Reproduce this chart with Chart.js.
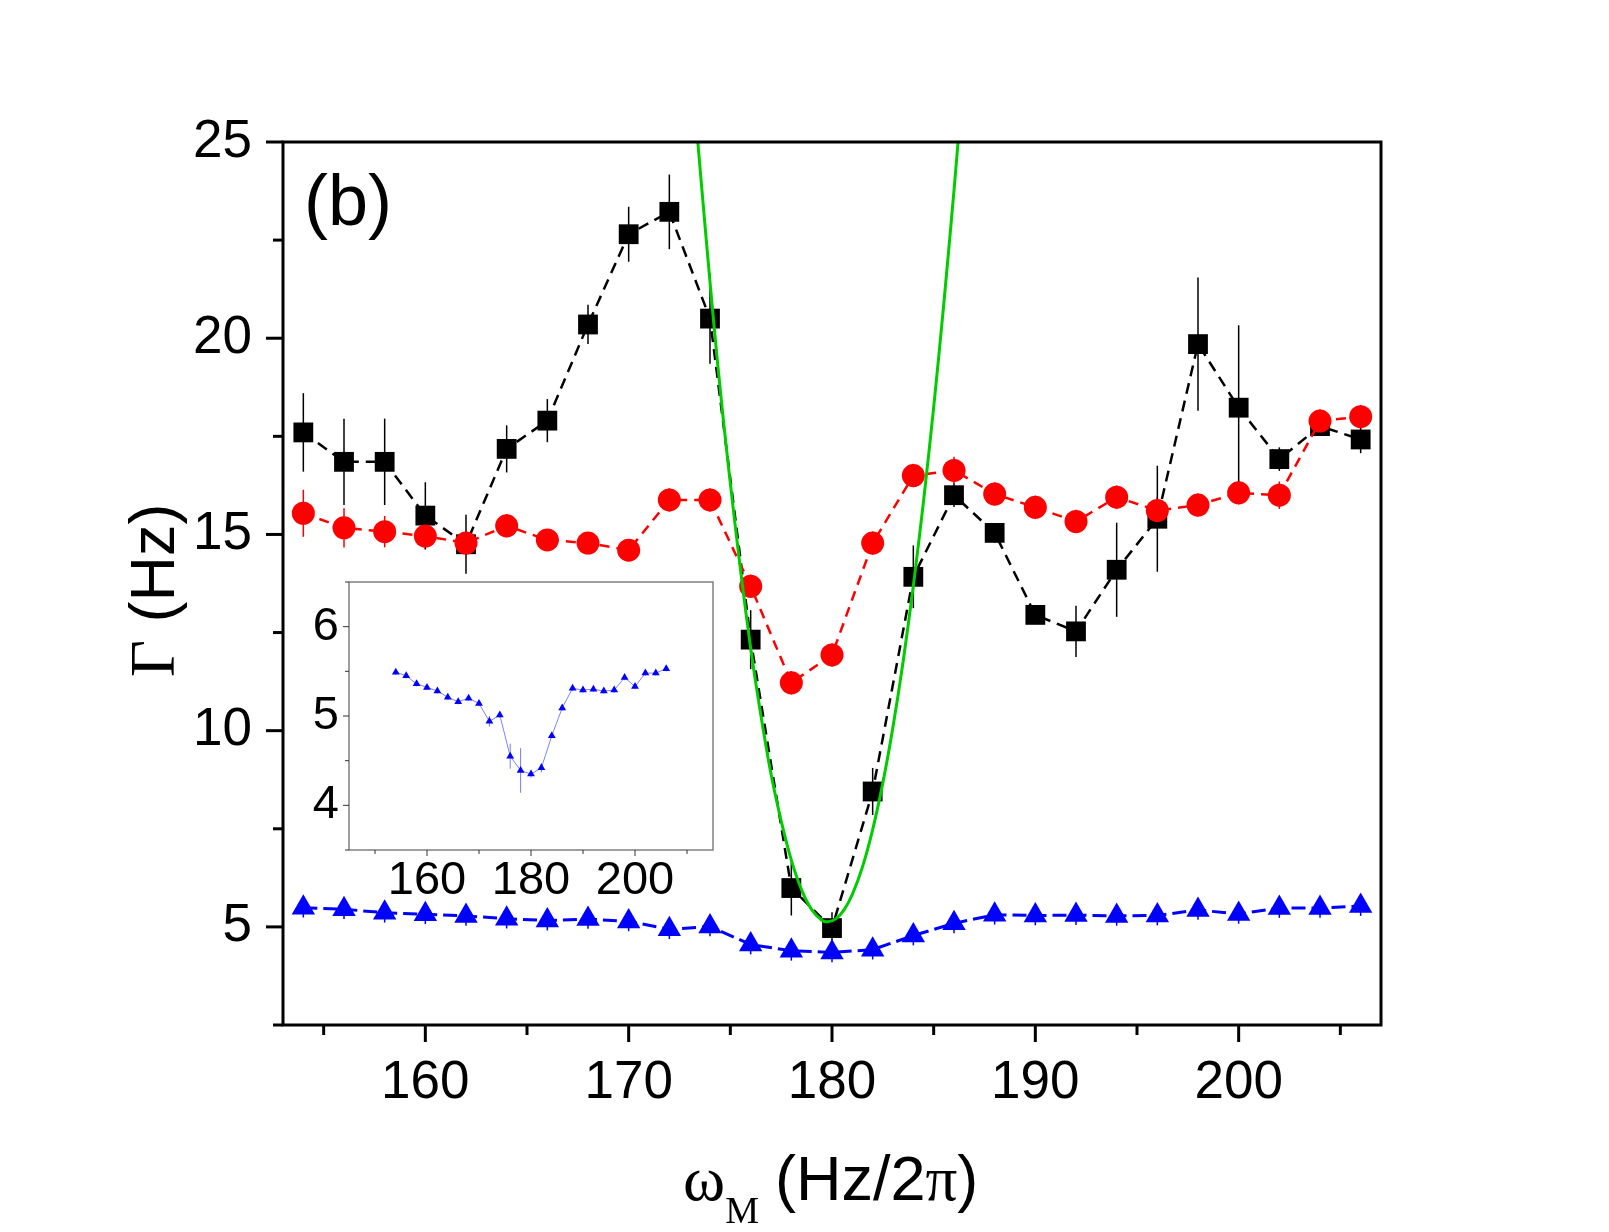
<!DOCTYPE html>
<html>
<head>
<meta charset="utf-8">
<script src="https://cdn.jsdelivr.net/npm/chart.js@4.4.1/dist/chart.umd.min.js"></script>
<style>
  html, body { margin: 0; padding: 0; background: #fff; overflow: hidden; }
  #wrap { position: relative; width: 1609px; height: 1232px; }
  #main { position: absolute; left: 0; top: 0; }
  #inset { position: absolute; left: 269px; top: 540px; }
</style>
</head>
<body>
<div id="wrap">
  <canvas id="main" width="1609" height="1232"></canvas>
  <canvas id="inset" width="480" height="380"></canvas>
</div>
<script>
const SANS = '"Liberation Sans", Arial, Helvetica, sans-serif';
const SERIF = '"Liberation Serif", "Times New Roman", "DejaVu Serif", serif';
Chart.defaults.font.family = SANS;
Chart.defaults.color = "#000";

// modulation frequency (Hz/2pi)
const freq = [154, 156, 158, 160, 162, 164, 166, 168, 170, 172, 174, 176, 178, 180,
              182, 184, 186, 188, 190, 192, 194, 196, 198, 200, 202, 204, 206];

// black squares
const gammaBlack = [17.6, 16.85, 16.85, 15.48, 14.75, 17.18, 17.9, 20.35, 22.65, 23.22, 20.5, 12.32, 5.99, 4.97,
                    8.45, 13.92, 16.0, 15.04, 12.95, 12.53, 14.1, 15.4, 19.85, 18.23, 16.92, 17.76, 17.42];
const errBlack = [1.0, 1.1, 1.1, 0.85, 0.75, 0.6, 0.55, 0.5, 0.7, 0.95, 1.15, 0.75, 0.7, 0.4,
                  0.6, 0.8, 0.3, 0.25, 0.2, 0.65, 1.2, 1.35, 1.7, 2.1, 0.3, 0.15, 0.35];

// red circles
const gammaRed = [15.54, 15.17, 15.07, 14.96, 14.78, 15.22, 14.86, 14.78, 14.6, 15.88, 15.88, 13.68, 11.22, 11.93,
                  14.78, 16.5, 16.63, 16.03, 15.69, 15.33, 15.95, 15.61, 15.75, 16.06, 16.0, 17.89, 18.0];
const errRed = [0.6, 0.5, 0.4, 0.35, 0.3, 0.3, 0.25, 0.25, 0.25, 0.3, 0.3, 0.3, 0.3, 0.3,
                0.3, 0.3, 0.35, 0.3, 0.3, 0.3, 0.3, 0.35, 0.3, 0.3, 0.35, 0.3, 0.3];

// blue triangles (also shown in the inset)
const gammaBlue = [5.49, 5.45, 5.36, 5.32, 5.28, 5.21, 5.16, 5.20, 5.14, 4.94, 5.01, 4.55, 4.39, 4.35,
                   4.42, 4.78, 5.09, 5.31, 5.29, 5.30, 5.28, 5.29, 5.43, 5.33, 5.48, 5.48, 5.53];
const errBlue = [0.25, 0.25, 0.25, 0.25, 0.25, 0.25, 0.25, 0.25, 0.25, 0.25, 0.25, 0.25, 0.25, 0.25,
                 0.25, 0.25, 0.25, 0.25, 0.25, 0.25, 0.25, 0.25, 0.25, 0.25, 0.25, 0.25, 0.25];
const errBlueInset = [0.03, 0.03, 0.03, 0.03, 0.03, 0.03, 0.03, 0.03, 0.03, 0.06, 0.03, 0.14, 0.25, 0.04,
                      0.05, 0.03, 0.03, 0.03, 0.03, 0.03, 0.03, 0.03, 0.03, 0.03, 0.03, 0.03, 0.03];

// green fit curve
const fitX = [173.4, 173.8, 174.2, 174.6, 175, 175.5, 176, 176.5, 177, 177.5, 178, 178.5, 179, 179.5, 179.8,
              180.2, 180.6, 181, 181.5, 182, 182.5, 183, 183.5, 184, 184.5, 185, 185.5, 186, 186.2];
const fitY = [25.0, 22.6, 20.3, 18.2, 16.3, 14.1, 12.1, 10.4, 8.9, 7.7, 6.7, 5.95, 5.44, 5.17, 5.13,
              5.21, 5.44, 5.83, 6.53, 7.48, 8.67, 10.1, 11.77, 13.69, 15.84, 18.24, 20.89, 23.77, 25.0];

// axes
const xMajor = [160, 170, 180, 190, 200];
const xMinor = [155, 165, 175, 185, 195, 205];
const yMajor = [5, 10, 15, 20, 25];
const yMinor = [2.5, 7.5, 12.5, 17.5, 22.5];

const insetXMajor = [160, 180, 200];
const insetXMinor = [150, 170, 190, 210];
const insetYMajor = [4, 5, 6];
const insetYMinor = [3.5, 4.5, 5.5, 6.5];

const pts = (xs, ys) => xs.map((x, i) => ({ x, y: ys[i] }));

// error bars + frame + tick marks
const framePlugin = {
  id: "frame",
  beforeDatasetsDraw(chart) {
    const { ctx, chartArea, scales } = chart;
    ctx.save();
    ctx.beginPath();
    ctx.rect(chartArea.left, chartArea.top, chartArea.right - chartArea.left, chartArea.bottom - chartArea.top);
    ctx.clip();
    chart.data.datasets.forEach((ds, i) => {
      if (!ds.errors) return;
      const meta = chart.getDatasetMeta(i);
      ctx.strokeStyle = ds.errColor;
      ctx.lineWidth = ds.errWidth || 1.5;
      meta.data.forEach((el, j) => {
        const v = ds.data[j].y, e = ds.errors[j];
        ctx.beginPath();
        ctx.moveTo(el.x, scales.y.getPixelForValue(v + e));
        ctx.lineTo(el.x, scales.y.getPixelForValue(v - e));
        ctx.stroke();
      });
    });
    ctx.restore();
  },
  afterDraw(chart, args, o) {
    const { ctx, chartArea: a, scales } = chart;
    ctx.save();
    ctx.strokeStyle = o.boxColor;
    ctx.lineWidth = o.boxWidth;
    ctx.strokeRect(a.left, a.top, a.right - a.left, a.bottom - a.top);
    ctx.strokeStyle = o.tickColor;
    ctx.lineWidth = o.tickWidth;
    const xt = (vals, len) => vals.forEach(v => {
      const px = scales.x.getPixelForValue(v);
      ctx.beginPath(); ctx.moveTo(px, a.bottom); ctx.lineTo(px, a.bottom + len); ctx.stroke();
    });
    const yt = (vals, len) => vals.forEach(v => {
      const py = scales.y.getPixelForValue(v);
      ctx.beginPath(); ctx.moveTo(a.left, py); ctx.lineTo(a.left - len, py); ctx.stroke();
    });
    xt(o.xMajor, o.majorLen); xt(o.xMinor, o.minorLen);
    yt(o.yMajor, o.majorLen); yt(o.yMinor, o.minorLen);
    ctx.restore();
  }
};

// mixed-font titles for the main chart
const titlesPlugin = {
  id: "titles",
  afterDraw(chart) {
    const ctx = chart.ctx;
    ctx.save();
    ctx.fillStyle = "#000";
    ctx.textBaseline = "alphabetic";
    ctx.textAlign = "left";

    ctx.font = "72px " + SANS;
    ctx.fillText("(b)", 304, 225);

    // x title: ω_M (Hz/2π)
    let x = 683;
    ctx.font = "64px " + SERIF;
    ctx.fillText("ω", x, 1200);
    x += ctx.measureText("ω").width;
    ctx.font = "38px " + SERIF;
    ctx.fillText("M", x, 1223);
    x += ctx.measureText("M").width + 16;
    ctx.font = "63px " + SANS;
    ctx.fillText("(Hz/2", x, 1200);
    x += ctx.measureText("(Hz/2").width;
    ctx.font = "63px " + SERIF;
    ctx.fillText("π", x, 1200);
    x += ctx.measureText("π").width;
    ctx.font = "63px " + SANS;
    ctx.fillText(")", x, 1200);

    // y title: Γ (Hz)
    ctx.translate(174, 677);
    ctx.rotate(-Math.PI / 2);
    ctx.font = "64px " + SERIF;
    ctx.fillText("Γ", 0, 0);
    const w = ctx.measureText("Γ").width;
    ctx.font = "63px " + SANS;
    ctx.fillText(" (Hz)", w, 0);
    ctx.restore();
  }
};

new Chart(document.getElementById("main"), {
  type: "scatter",
  data: {
    datasets: [
      {
        data: pts(fitX, fitY),
        showLine: true,
        borderColor: "#00cc00",
        borderWidth: 3,
        pointRadius: 0,
        tension: 0.3,
        clip: 0,
      },
      {
        data: pts(freq, gammaBlue),
        errors: errBlue,
        errColor: "#0000ff",
        showLine: true,
        borderColor: "#0000ff",
        borderWidth: 3,
        borderDash: [14, 6],
        pointStyle: "triangle",
        pointRadius: 13.5,
        pointBackgroundColor: "#0000ff",
        pointBorderColor: "#0000ff",
        pointBorderWidth: 0,
      },
      {
        data: pts(freq, gammaRed),
        errors: errRed,
        errColor: "#ff0000",
        showLine: true,
        borderColor: "#ff0000",
        borderWidth: 2.5,
        borderDash: [10, 7],
        pointStyle: "circle",
        pointRadius: 11.5,
        pointBackgroundColor: "#ff0000",
        pointBorderColor: "#ff0000",
        pointBorderWidth: 0,
      },
      {
        data: pts(freq, gammaBlack),
        errors: errBlack,
        errColor: "#000",
        showLine: true,
        borderColor: "#000",
        borderWidth: 2.5,
        borderDash: [11, 7],
        pointStyle: "rect",
        pointRadius: 14,
        pointBackgroundColor: "#000",
        pointBorderColor: "#000",
        pointBorderWidth: 0,
      },
    ],
  },
  options: {
    responsive: false,
    devicePixelRatio: 1,
    animation: false,
    layout: { padding: { top: 142, right: 228, left: 0, bottom: 0 } },
    scales: {
      x: {
        type: "linear",
        min: 153,
        max: 207,
        afterBuildTicks: (s) => { s.ticks = xMajor.map((v) => ({ value: v })); },
        afterFit: (s) => { s.height = 207; },
        grid: { display: false },
        border: { display: false },
        ticks: { font: { size: 53 }, color: "#000", padding: 19, maxRotation: 0 },
      },
      y: {
        type: "linear",
        min: 2.5,
        max: 25,
        afterBuildTicks: (s) => { s.ticks = yMajor.map((v) => ({ value: v })); },
        afterFit: (s) => { s.width = 283; },
        grid: { display: false },
        border: { display: false },
        ticks: { font: { size: 53 }, color: "#000", padding: 23 },
      },
    },
    plugins: {
      legend: { display: false },
      tooltip: { enabled: false },
      frame: {
        boxColor: "#000", boxWidth: 3, tickColor: "#000", tickWidth: 3,
        majorLen: 17, minorLen: 10,
        xMajor, xMinor, yMajor, yMinor,
      },
    },
  },
  plugins: [framePlugin, titlesPlugin],
});

new Chart(document.getElementById("inset"), {
  type: "scatter",
  data: {
    datasets: [
      {
        data: pts(freq, gammaBlue),
        errors: errBlueInset,
        errColor: "#7a7aff",
        errWidth: 1,
        showLine: true,
        borderColor: "#8080ff",
        borderWidth: 1,
        pointStyle: "triangle",
        pointRadius: 4.5,
        pointBackgroundColor: "#0000ff",
        pointBorderColor: "#0000ff",
        pointBorderWidth: 0,
      },
    ],
  },
  options: {
    responsive: false,
    devicePixelRatio: 1,
    animation: false,
    layout: { padding: { top: 42, right: 36, left: 0, bottom: 0 } },
    scales: {
      x: {
        type: "linear",
        min: 145,
        max: 215,
        afterBuildTicks: (s) => { s.ticks = insetXMajor.map((v) => ({ value: v })); },
        afterFit: (s) => { s.height = 70; },
        grid: { display: false },
        border: { display: false },
        ticks: { font: { size: 47, lineHeight: 1 }, color: "#000", padding: 0, maxRotation: 0 },
      },
      y: {
        type: "linear",
        min: 3.5,
        max: 6.5,
        afterBuildTicks: (s) => { s.ticks = insetYMajor.map((v) => ({ value: v })); },
        afterFit: (s) => { s.width = 80; },
        grid: { display: false },
        border: { display: false },
        ticks: { font: { size: 47 }, color: "#000", padding: 2 },
      },
    },
    plugins: {
      legend: { display: false },
      tooltip: { enabled: false },
      frame: {
        boxColor: "#808080", boxWidth: 1.5, tickColor: "#333", tickWidth: 1,
        majorLen: 6, minorLen: 4,
        xMajor: insetXMajor, xMinor: insetXMinor, yMajor: insetYMajor, yMinor: insetYMinor,
      },
    },
  },
  plugins: [framePlugin],
});
</script>
</body>
</html>
